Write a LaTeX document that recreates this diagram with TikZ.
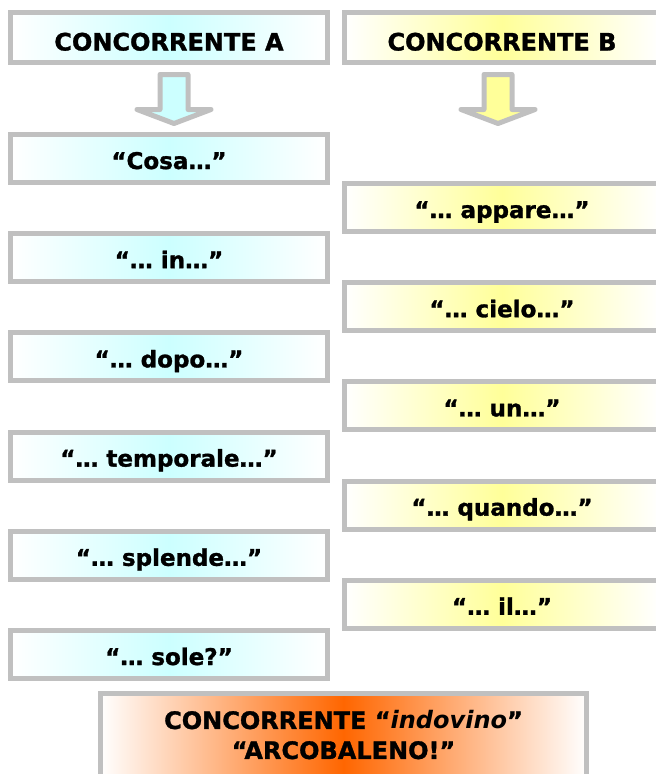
\documentclass[tikz,border=0pt]{standalone}
\usepackage{fontspec}
\setmainfont{DejaVu Sans}[BoldFeatures={FakeBold=1.3}]
\usetikzlibrary{positioning}
\definecolor{azzurro}{HTML}{CCFFFF}
\definecolor{giallo}{HTML}{FFFF99}
\definecolor{arancio}{HTML}{FF6600}
\definecolor{bordo}{HTML}{C0C0C0}

\begin{document}
\begin{tikzpicture}[
        x=1pt, y=-1pt,
        every node/.style={font=\bfseries\fontsize{23}{28}\selectfont},
        cornice/.style={rectangle, draw=bordo, line width=5pt, inner sep=0pt, left color=white, right color=white},
        casella/.style={cornice, minimum height=48pt, text height=21pt, text depth=0pt},
        casellaA/.style={casella, minimum width=317pt, middle color=azzurro},
        casellaB/.style={casella, minimum width=315pt, middle color=giallo},
        testata/.style={cornice, minimum height=50pt, text height=26pt, text depth=0pt, font=\bfseries\fontsize{24}{28}\selectfont},
        freccia/.style={draw=bordo, line width=5pt, line join=round}
    ]
        \useasboundingbox (0,0) rectangle (656,774);

        % Intestazioni dei due concorrenti
        \node[testata, minimum width=317pt, middle color=azzurro] (cA) at (169, 37.5) {CONCORRENTE A};
        \node[testata, minimum width=315pt, middle color=giallo] (cB) at (502, 37.5) {CONCORRENTE B};

        % Frecce larghe sotto le intestazioni
        \foreach \n/\dx/\col in {cA/-9/azzurro, cB/-18/giallo}
            \draw[freccia, fill=\col] ([xshift=\dx pt, yshift=-9.5pt]\n.south) -- ++(28,0) -- ++(0,35) -- ++(23,0)
                -- ++(-37,14) -- ++(-37,-14) -- ++(23,0) -- cycle;

        % Parole del concorrente A
        \foreach \testo [count=\i] in {“Cosa…”, “… in…”, “… dopo…”, “… temporale…”, “… splende…”, “… sole?”}
            \node[casellaA] (A-\i) at (169, 59.3+99.2*\i) {\testo};

        % Parole del concorrente B (sfalsate)
        \foreach \testo [count=\i] in {“… appare…”, “… cielo…”, “… un…”, “… quando…”, “… il…”}
            \node[casellaB] (B-\i) at (502, 108.3+99.2*\i) {\testo};

        % Risposta finale
        \node[cornice, minimum width=486pt, minimum height=83pt, middle color=arancio, align=center,
              font=\bfseries\fontsize{24}{30}\selectfont] (fin) at (343.5, 735)
            {CONCORRENTE “\textit{indovino}”\\“ARCOBALENO!”};

    \end{tikzpicture}
\end{document}
